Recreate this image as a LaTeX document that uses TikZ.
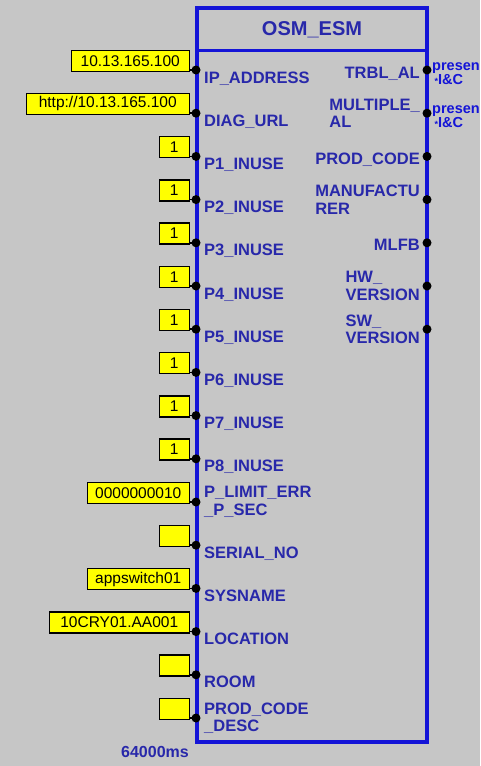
\documentclass[tikz,border=0pt]{standalone}
\usepackage{fontspec}
\setmainfont{Liberation Sans}
\definecolor{bg}{RGB}{198,198,198}
\definecolor{fbblue}{RGB}{20,20,215}
\definecolor{lblblue}{RGB}{40,40,170}
\definecolor{yel}{RGB}{255,255,0}
\begin{document}
\begin{tikzpicture}[x=1pt,y=-1pt,
  pinL/.style={anchor=base west,inner sep=0,text=lblblue,font=\fontsize{16.5}{17}\selectfont\bfseries},
  pinL2/.style={anchor=west,inner sep=0,align=left,text=lblblue,font=\fontsize{16.5}{17.5}\selectfont\bfseries},
  pinR/.style={anchor=base east,inner sep=0,text=lblblue,font=\fontsize{16.5}{17}\selectfont\bfseries},
  pinR2/.style={anchor=east,inner sep=0,align=left,text=lblblue,font=\fontsize{16.5}{17.5}\selectfont\bfseries},
  valbox/.style={anchor=south east,draw=black,line width=1.5pt,fill=yel,inner sep=0,minimum height=21,font=\fontsize{15.5}{16}\selectfont,text=black},
  dotpin/.style={circle,fill=black,inner sep=0,minimum size=9},
  ext/.style={anchor=north west,inner sep=0,align=left,text=fbblue,font=\fontsize{14.5}{14}\selectfont\bfseries}
]
\useasboundingbox (0,0) rectangle (480,766);
\fill[bg] (0,0) rectangle (480,766);
\begin{scope}
\clip (0,0) rectangle (480,766);
% function block
\draw[fbblue,line width=3.5pt] (197,8) rectangle (427,742);
\draw[fbblue,line width=3pt] (197,50) -- (427,50);
\node[text=lblblue,font=\fontsize{20}{20}\selectfont\bfseries] (title) at (312,30) {OSM\_ESM};

% pin coordinates
\foreach \i in {0,...,15}{
  \coordinate (a\i) at (196,70+43.2*\i);
}
\foreach \i in {0,...,6}{
  \coordinate (r\i) at (427,70+43.2*\i);
}

% value boxes
\node[valbox,minimum width=118] (v0) at ([yshift=-2]a0 -| 190,0) {10.13.165.100};
\node[valbox,minimum width=163] (v1) at ([yshift=-2]a1 -| 190,0) {http://10.13.165.100};
\node[valbox,minimum width=30] (v2) at ([yshift=-2]a2 -| 190,0) {1};
\node[valbox,minimum width=30] (v3) at ([yshift=-2]a3 -| 190,0) {1};
\node[valbox,minimum width=30] (v4) at ([yshift=-2]a4 -| 190,0) {1};
\node[valbox,minimum width=30] (v5) at ([yshift=-2]a5 -| 190,0) {1};
\node[valbox,minimum width=30] (v6) at ([yshift=-2]a6 -| 190,0) {1};
\node[valbox,minimum width=30] (v7) at ([yshift=-2]a7 -| 190,0) {1};
\node[valbox,minimum width=30] (v8) at ([yshift=-2]a8 -| 190,0) {1};
\node[valbox,minimum width=30] (v9) at ([yshift=-2]a9 -| 190,0) {1};
\node[valbox,minimum width=102] (v10) at ([yshift=-2]a10 -| 190,0) {0000000010};
\node[valbox,minimum width=30] (v11) at ([yshift=-2]a11 -| 190,0) {};
\node[valbox,minimum width=102] (v12) at ([yshift=-2]a12 -| 190,0) {appswitch01};
\node[valbox,minimum width=140] (v13) at ([yshift=-2]a13 -| 190,0) {10CRY01.AA001};
\node[valbox,minimum width=30] (v14) at ([yshift=-2]a14 -| 190,0) {};
\node[valbox,minimum width=30] (v15) at ([yshift=-2]a15 -| 190,0) {};

\foreach \k in {0,...,15}{
  \draw[black,line width=1.5pt] (v\k.east |- a\k) -- (a\k);
  \node[dotpin] (da\k) at (a\k) {};
}
\foreach \k in {0,...,6}{
  \node[dotpin] (dr\k) at (r\k) {};
}

% left labels
\node[pinL] (la0) at ([yshift=-13,xshift=8]a0) {IP\_ADDRESS};
\node[pinL] (la1) at ([yshift=-13,xshift=8]a1) {DIAG\_URL};
\node[pinL] (la2) at ([yshift=-13,xshift=8]a2) {P1\_INUSE};
\node[pinL] (la3) at ([yshift=-13,xshift=8]a3) {P2\_INUSE};
\node[pinL] (la4) at ([yshift=-13,xshift=8]a4) {P3\_INUSE};
\node[pinL] (la5) at ([yshift=-13,xshift=8]a5) {P4\_INUSE};
\node[pinL] (la6) at ([yshift=-13,xshift=8]a6) {P5\_INUSE};
\node[pinL] (la7) at ([yshift=-13,xshift=8]a7) {P6\_INUSE};
\node[pinL] (la8) at ([yshift=-13,xshift=8]a8) {P7\_INUSE};
\node[pinL] (la9) at ([yshift=-13,xshift=8]a9) {P8\_INUSE};
\node[pinL2] (la10) at ([yshift=0,xshift=8]a10) {P\_LIMIT\_ERR\\\_P\_SEC};
\node[pinL] (la11) at ([yshift=-13,xshift=8]a11) {SERIAL\_NO};
\node[pinL] (la12) at ([yshift=-13,xshift=8]a12) {SYSNAME};
\node[pinL] (la13) at ([yshift=-13,xshift=8]a13) {LOCATION};
\node[pinL] (la14) at ([yshift=-13,xshift=8]a14) {ROOM};
\node[pinL2] (la15) at ([yshift=0,xshift=8]a15) {PROD\_CODE\\\_DESC};

% right labels
\node[pinR] (lr0) at ([yshift=-8,xshift=-7]r0) {TRBL\_AL};
\node[pinR2] (lr1) at ([xshift=-7]r1) {MULTIPLE\_\\AL};
\node[pinR] (lr2) at ([yshift=-8,xshift=-7]r2) {PROD\_CODE};
\node[pinR2] (lr3) at ([xshift=-7]r3) {MANUFACTU\\RER};
\node[pinR] (lr4) at ([yshift=-8,xshift=-7]r4) {MLFB};
\node[pinR2] (lr5) at ([xshift=-7]r5) {HW\_\\VERSION};
\node[pinR2] (lr6) at ([xshift=-7]r6) {SW\_\\VERSION};

% external references
\node[ext] (e0) at ([xshift=5,yshift=8]r0) {presen\\\,{\fontsize{9}{9}\selectfont*}I\&C};
\node[ext] (e1) at ([xshift=5,yshift=8]r1) {presen\\\,{\fontsize{9}{9}\selectfont*}I\&C};

% cycle time
\node[text=lblblue,font=\fontsize{16}{17}\selectfont\bfseries,anchor=base] (cyc) at (155,757) {64000ms};
\end{scope}
\end{tikzpicture}
\end{document}
